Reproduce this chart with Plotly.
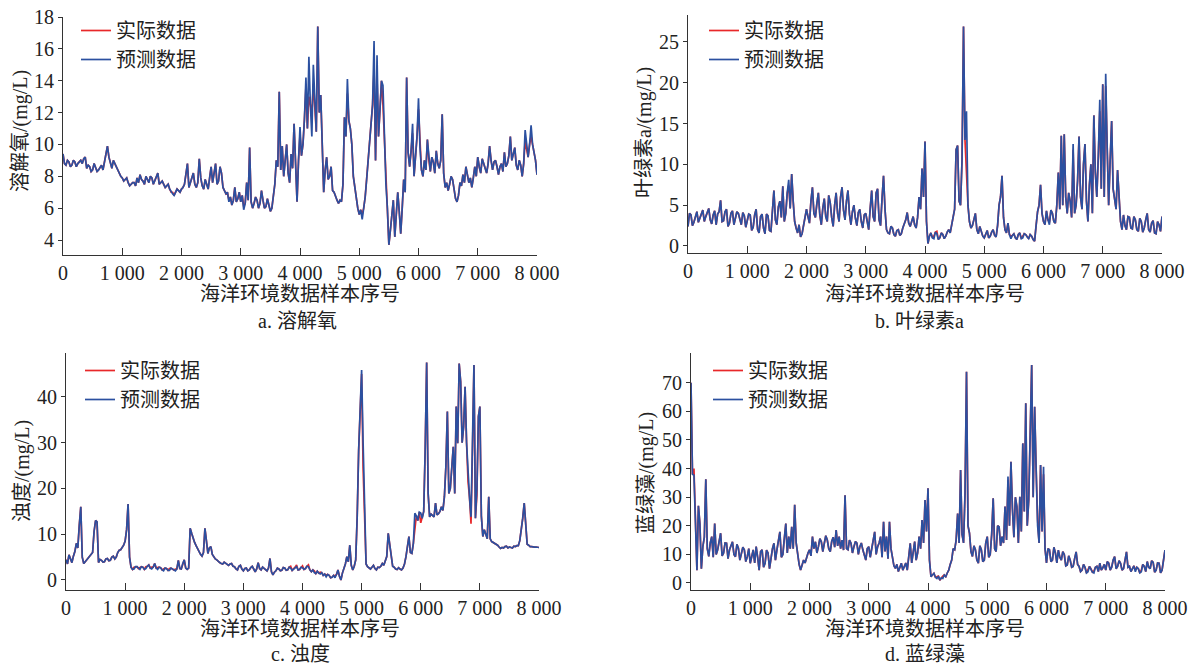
import plotly.graph_objects as go

sample_index = list(range(0, 8001, 25))

do_pred = [
    9.4, 8.8, 8.7, 9.0, 8.9, 8.6, 8.7, 9.0, 8.9, 8.6, 8.8, 8.9, 9.0, 8.8, 9.1, 9.2, 8.5, 8.7, 8.6, 8.3,
    8.4, 8.8, 8.6, 8.3, 8.4, 8.6, 8.7, 8.4, 9.0, 9.4, 9.9, 9.2, 8.8, 8.5, 9.0, 8.8, 8.6, 8.3, 8.2, 8.0,
    7.9, 7.7, 7.8, 7.9, 7.6, 7.4, 7.5, 7.6, 7.6, 7.4, 7.9, 7.6, 8.1, 7.8, 7.7, 7.5, 8.0, 7.8, 7.6, 8.0,
    7.9, 7.5, 7.7, 7.9, 8.2, 7.5, 7.6, 7.7, 7.5, 7.3, 7.4, 7.5, 7.2, 7.0, 6.9, 6.8, 7.0, 7.2, 7.1, 7.0,
    7.2, 7.3, 7.5, 8.1, 8.8, 7.3, 7.6, 8.0, 8.2, 7.5, 7.3, 7.6, 9.1, 7.9, 7.4, 7.2, 7.8, 7.5, 7.2, 7.9,
    8.6, 7.6, 8.4, 8.8, 7.5, 7.7, 8.6, 8.2, 7.3, 7.1, 6.9, 7.0, 6.4, 6.7, 6.2, 6.5, 7.3, 6.4, 6.6, 7.0,
    6.4, 6.8, 5.9, 6.3, 7.6, 6.5, 9.8, 6.4, 6.0, 6.3, 6.7, 6.5, 6.0, 6.3, 7.1, 6.5, 6.0, 6.1, 6.6, 6.2,
    5.8, 6.0, 6.8, 7.5, 9.0, 8.6, 13.3, 8.4, 9.9, 8.0, 9.0, 10.0, 8.2, 7.6, 9.4, 8.5, 11.3, 8.8, 6.4, 9.0,
    11.1, 9.3, 10.0, 11.6, 14.2, 11.0, 15.5, 12.5, 10.5, 15.0, 12.2, 10.8, 17.4, 12.0, 13.1, 9.5, 7.0, 8.4, 9.2, 7.8,
    8.0, 8.6, 7.1, 7.0, 6.7, 6.5, 6.3, 6.5, 6.4, 7.5, 11.7, 10.5, 14.1, 11.5, 11.0, 10.0, 8.0, 7.2, 6.5, 6.0,
    5.6, 5.9, 5.3, 6.0, 6.7, 7.8, 9.0, 10.2, 11.5, 12.5, 16.5, 9.0, 15.6, 10.5, 12.2, 14.0, 13.7, 10.2, 7.5, 6.0,
    3.7, 4.6, 5.8, 6.5, 4.2, 5.5, 7.0, 5.8, 4.4, 6.0, 7.8, 7.0, 14.2, 9.5, 8.6, 9.6, 11.3, 8.0, 9.0, 10.5,
    12.9, 9.8, 8.4, 8.0, 9.0, 8.4, 10.3, 9.0, 8.3, 9.2, 8.9, 8.2, 9.6, 8.8, 8.5, 9.0, 11.9, 8.2, 7.3, 7.6,
    7.1, 7.5, 8.0, 7.8, 7.0, 6.6, 6.4, 6.8, 7.6, 7.4, 8.1, 7.6, 8.6, 8.2, 7.6, 7.9, 7.3, 7.9, 8.6, 8.0,
    9.2, 8.6, 8.2, 9.1, 8.8, 8.4, 8.2, 8.8, 9.9, 9.0, 8.4, 8.9, 9.0, 8.6, 8.1, 8.6, 8.8, 8.3, 9.5, 8.6,
    8.8, 9.3, 10.5, 9.0, 9.4, 9.8, 8.7, 8.4, 9.0, 8.7, 8.0, 8.8, 10.9, 9.8, 9.2, 10.0, 11.2, 10.0, 9.6, 9.0,
    8.1,
]
do_actual = [
    9.4, 8.8, 8.7, 9.0, 8.9, 8.6, 8.7, 9.0, 8.9, 8.6, 8.8, 8.9, 9.0, 8.8, 9.1, 9.2, 8.5, 8.7, 8.6, 8.3,
    8.4, 8.8, 8.6, 8.3, 8.4, 8.6, 8.7, 8.4, 9.0, 9.4, 9.9, 9.2, 8.8, 8.5, 9.0, 8.8, 8.6, 8.3, 8.2, 8.0,
    7.9, 7.7, 7.8, 7.9, 7.6, 7.4, 7.5, 7.6, 7.6, 7.4, 7.9, 7.6, 8.1, 7.8, 7.7, 7.5, 8.0, 7.8, 7.6, 8.0,
    7.9, 7.5, 7.7, 7.9, 8.2, 7.5, 7.6, 7.7, 7.5, 7.3, 7.4, 7.5, 7.2, 7.0, 7.0, 6.8, 7.0, 7.2, 7.1, 7.0,
    7.2, 7.3, 7.5, 8.1, 8.8, 7.3, 7.6, 8.0, 8.2, 7.5, 7.3, 7.6, 9.1, 7.9, 7.4, 7.2, 7.8, 7.5, 7.2, 7.9,
    8.6, 7.6, 8.4, 8.8, 7.5, 7.7, 8.6, 8.2, 7.3, 7.1, 6.9, 7.0, 6.5, 6.7, 6.2, 6.5, 7.3, 6.4, 6.6, 7.0,
    6.4, 6.8, 6.1, 6.3, 7.6, 6.5, 9.8, 6.4, 6.0, 6.3, 6.7, 6.5, 6.0, 6.3, 7.1, 6.5, 6.0, 6.1, 6.6, 6.2,
    5.8, 6.0, 6.8, 7.5, 9.0, 8.6, 13.3, 8.4, 9.9, 8.0, 9.0, 10.0, 8.2, 7.6, 9.4, 8.5, 11.3, 8.8, 6.4, 9.0,
    10.6, 9.3, 10.0, 11.6, 13.6, 11.0, 13.0, 12.5, 11.9, 13.8, 12.2, 10.8, 17.4, 12.0, 13.1, 9.5, 7.0, 8.4, 9.2, 7.8,
    8.0, 8.6, 7.1, 7.0, 6.7, 6.5, 6.3, 6.5, 6.4, 7.5, 11.7, 10.5, 13.2, 11.5, 11.0, 10.0, 8.0, 7.2, 6.5, 6.0,
    5.6, 5.9, 5.6, 6.0, 6.7, 7.8, 9.0, 10.2, 11.5, 12.5, 14.7, 9.0, 14.2, 10.5, 12.2, 14.0, 12.5, 10.2, 7.5, 6.0,
    3.7, 4.6, 5.8, 6.5, 4.2, 5.5, 7.0, 5.8, 4.4, 6.0, 7.8, 7.0, 14.2, 9.5, 8.6, 9.6, 10.7, 8.0, 9.0, 10.5,
    12.2, 9.8, 8.4, 8.0, 9.0, 8.4, 10.3, 9.0, 8.3, 9.2, 8.9, 8.2, 9.6, 8.8, 8.5, 9.0, 11.9, 8.2, 7.3, 7.6,
    7.1, 7.5, 8.0, 7.8, 7.0, 6.6, 6.4, 6.8, 7.6, 7.4, 8.1, 7.6, 8.6, 8.2, 7.6, 7.9, 7.3, 7.9, 8.6, 8.0,
    9.2, 8.6, 8.2, 9.1, 8.8, 8.4, 8.2, 8.8, 9.9, 9.0, 8.4, 8.9, 9.0, 8.6, 8.1, 8.6, 8.8, 8.3, 9.5, 8.6,
    8.8, 9.3, 10.5, 9.0, 9.4, 9.8, 8.7, 8.4, 9.0, 8.7, 8.0, 8.8, 10.2, 9.8, 9.2, 10.0, 10.5, 10.0, 9.6, 9.0,
    8.1,
]

chl_pred = [
    2.4, 4.0, 3.8, 2.5, 2.9, 3.7, 4.2, 2.9, 3.3, 3.9, 4.4, 3.0, 3.6, 4.1, 4.6, 3.2, 2.7, 3.8, 4.3, 2.6,
    3.9, 4.2, 5.6, 3.0, 3.1, 4.2, 4.5, 2.4, 2.8, 4.0, 4.3, 2.6, 3.5, 4.2, 4.0, 3.2, 2.6, 4.1, 3.7, 2.3,
    3.2, 3.9, 3.8, 1.9, 2.3, 3.8, 4.5, 2.0, 1.6, 3.6, 3.9, 2.2, 1.5, 3.9, 3.7, 1.9, 1.8, 4.3, 6.8, 3.2,
    2.6, 4.8, 5.5, 3.5, 7.3, 3.0, 4.0, 6.5, 8.1, 4.6, 8.8, 5.5, 3.0, 2.2, 1.6, 2.6, 1.1, 1.5, 2.4, 3.2,
    4.5, 3.6, 2.8, 5.5, 7.2, 4.0, 3.5, 5.2, 6.5, 3.8, 2.6, 4.6, 5.8, 3.6, 3.0, 6.2, 5.3, 3.5, 2.4, 5.0,
    6.5, 4.0, 3.0, 6.0, 7.2, 4.4, 3.2, 5.5, 6.8, 3.9, 2.6, 4.2, 5.0, 3.4, 2.5, 4.1, 4.5, 3.0, 2.2, 3.8,
    4.0, 3.0, 2.0, 4.6, 6.8, 3.6, 3.0, 6.5, 7.0, 3.2, 2.5, 5.8, 8.6, 4.5, 2.0, 1.6, 1.5, 2.4, 2.2, 1.4,
    1.2, 1.9, 2.0, 1.3, 1.5, 2.2, 2.6, 3.2, 4.1, 2.8, 2.4, 3.0, 3.6, 2.6, 2.2, 3.5, 6.0, 4.5, 9.5, 6.0,
    12.8, 3.0, 0.3, 1.2, 1.6, 1.0, 0.9, 1.7, 1.5, 0.8, 1.0, 1.6, 1.4, 0.9, 1.2, 1.7, 2.0, 1.6, 2.6, 3.2,
    4.5, 11.8, 12.3, 5.5, 5.0, 10.5, 26.9, 13.0, 16.5, 5.0, 3.0, 2.2, 2.5, 3.2, 4.0, 2.0, 1.5, 2.4, 1.8, 1.2,
    1.0, 1.6, 1.9, 1.0, 1.2, 1.7, 2.0, 1.3, 1.1, 2.5, 5.0, 6.0, 8.6, 3.5, 2.0, 1.6, 2.8, 1.4, 0.9, 1.3,
    1.5, 1.0, 0.8, 1.4, 1.6, 0.9, 1.0, 1.5, 1.4, 1.1, 0.9, 1.4, 1.2, 0.8, 0.6, 2.5, 4.2, 5.0, 7.5, 4.0,
    3.0, 2.6, 4.3, 3.2, 2.6, 4.4, 4.0, 3.0, 2.8, 5.0, 9.0, 4.5, 13.5, 5.0, 13.7, 6.0, 4.0, 6.5, 5.5, 3.5,
    12.5, 4.0, 5.0, 8.0, 13.4, 6.0, 4.5, 10.0, 12.5, 5.5, 3.0, 7.5, 10.0, 4.0, 16.0, 9.0, 6.0, 11.0, 17.9, 7.0,
    19.8, 6.0, 21.1, 12.0, 5.0, 10.5, 15.3, 7.0, 6.0, 4.5, 9.3, 5.5, 3.0, 2.0, 3.8, 2.5, 2.0, 3.6, 3.5, 2.2,
    2.1, 3.6, 3.2, 2.0, 1.8, 3.4, 3.0, 1.7, 2.2, 3.2, 4.0, 2.0, 1.7, 2.8, 3.1, 1.6, 1.5, 3.0, 2.6, 1.8,
    3.6,
]
chl_actual = [
    2.4, 4.0, 3.8, 2.5, 2.9, 3.7, 4.2, 2.9, 3.3, 3.9, 4.4, 3.0, 3.6, 4.1, 4.6, 3.2, 2.7, 3.8, 4.3, 2.6,
    3.9, 4.2, 5.6, 3.0, 3.1, 4.2, 4.5, 2.4, 2.8, 4.0, 4.3, 2.6, 3.5, 4.2, 4.0, 3.2, 2.6, 4.1, 3.7, 2.3,
    3.2, 3.9, 3.8, 1.9, 2.3, 3.8, 4.5, 2.0, 1.6, 3.6, 3.9, 2.2, 1.5, 3.9, 3.7, 1.9, 1.8, 4.3, 6.8, 3.2,
    2.6, 4.8, 5.5, 3.5, 7.3, 3.0, 4.0, 6.5, 7.4, 4.6, 8.8, 5.5, 3.0, 2.2, 1.6, 2.6, 1.1, 1.5, 2.4, 3.2,
    4.5, 3.6, 2.8, 5.5, 7.2, 4.0, 3.5, 5.2, 6.5, 3.8, 2.6, 4.6, 5.8, 3.6, 3.0, 6.2, 5.3, 3.5, 2.4, 5.0,
    6.5, 4.0, 3.0, 6.0, 7.2, 4.4, 3.2, 5.5, 6.8, 3.9, 2.6, 4.2, 5.0, 3.4, 2.5, 4.1, 4.5, 3.0, 2.2, 3.8,
    4.0, 3.0, 2.0, 4.6, 6.8, 3.6, 3.0, 6.5, 7.0, 3.2, 2.5, 5.8, 8.6, 4.5, 2.0, 1.6, 1.5, 2.4, 2.2, 1.4,
    1.2, 1.9, 2.0, 1.3, 1.5, 2.2, 2.6, 3.2, 4.1, 2.8, 2.4, 3.0, 3.6, 2.6, 2.2, 3.5, 6.0, 4.5, 9.5, 6.0,
    12.8, 3.0, 0.3, 1.2, 1.6, 1.0, 1.2, 1.7, 1.8, 0.8, 1.0, 1.6, 1.4, 0.9, 1.2, 1.7, 2.0, 1.6, 2.6, 3.2,
    4.5, 11.8, 12.3, 5.5, 5.0, 10.5, 26.9, 13.0, 8.3, 5.0, 3.0, 2.2, 2.5, 3.2, 4.0, 2.0, 1.5, 2.4, 1.8, 1.2,
    1.0, 1.6, 1.9, 1.0, 1.2, 1.7, 2.0, 1.3, 1.1, 2.5, 5.0, 6.0, 8.6, 3.5, 2.0, 1.6, 2.8, 1.4, 1.2, 1.3,
    1.5, 1.0, 0.8, 1.4, 1.6, 0.9, 1.3, 1.5, 1.4, 1.1, 0.9, 1.4, 1.2, 0.8, 0.6, 2.5, 4.2, 5.0, 7.5, 4.0,
    3.0, 2.6, 4.3, 3.2, 2.9, 4.4, 4.0, 3.0, 2.8, 5.0, 9.0, 4.5, 13.5, 5.0, 13.7, 6.0, 4.0, 6.5, 5.5, 3.5,
    11.8, 4.0, 5.0, 8.0, 13.4, 6.0, 4.5, 10.0, 12.5, 5.5, 3.0, 7.5, 10.0, 4.0, 16.0, 9.0, 6.0, 11.0, 16.5, 7.0,
    19.8, 6.0, 19.6, 12.0, 5.0, 10.5, 15.3, 7.0, 6.0, 4.5, 9.3, 5.5, 3.0, 2.0, 3.8, 2.5, 2.0, 3.6, 3.5, 2.2,
    2.1, 3.6, 3.2, 2.0, 1.8, 3.4, 3.0, 1.7, 2.2, 3.2, 4.0, 2.0, 1.7, 2.8, 3.1, 1.6, 1.5, 3.0, 2.6, 1.8,
    3.6,
]

turb_pred = [
    4.4, 3.5, 5.5, 4.6, 3.8, 5.2, 6.2, 8.0, 7.0, 12.0, 16.0, 5.0, 3.6, 4.0, 4.4, 5.0, 5.2, 5.8, 6.0, 10.6,
    13.0, 12.7, 3.8, 4.5, 4.3, 3.9, 4.0, 4.6, 4.7, 4.2, 4.3, 5.0, 5.2, 4.6, 5.0, 6.0, 6.5, 6.6, 7.0, 7.6,
    8.5, 11.0, 16.6, 5.0, 2.8, 2.3, 2.4, 2.9, 2.9, 2.5, 2.3, 2.9, 2.8, 2.3, 2.5, 3.0, 3.3, 2.6, 2.4, 2.8,
    3.6, 2.6, 2.3, 2.8, 2.7, 2.2, 2.0, 2.6, 2.5, 2.1, 2.1, 2.6, 2.4, 2.2, 2.0, 2.4, 4.3, 2.5, 2.4, 3.6,
    4.4, 2.6, 2.3, 2.6, 11.3, 10.2, 9.1, 8.2, 7.5, 6.8, 6.0, 5.6, 5.2, 6.0, 11.3, 8.0, 5.8, 7.0, 7.3, 5.6,
    5.0, 4.6, 4.4, 4.0, 3.8, 3.6, 3.5, 3.9, 3.6, 3.3, 3.2, 3.5, 3.6, 3.0, 2.9, 2.4, 2.2, 3.0, 3.2, 2.4,
    2.0, 2.5, 2.6, 2.0, 2.2, 2.7, 3.0, 2.4, 1.8, 2.4, 3.8, 2.5, 2.2, 2.8, 2.5, 2.2, 2.0, 2.6, 4.7, 1.8,
    1.1, 1.7, 2.0, 2.6, 2.4, 2.0, 2.1, 2.7, 2.6, 2.1, 2.2, 2.8, 2.6, 2.1, 2.4, 2.8, 2.9, 2.2, 2.3, 2.8,
    2.7, 2.3, 2.5, 3.0, 2.9, 2.2, 1.8, 2.2, 1.6, 1.4, 1.9, 1.5, 1.3, 1.6, 1.0, 1.3, 0.7, 1.2, 1.0, 0.5,
    0.6, 1.0, 0.5, 1.2, 2.2, 0.8, 0.0, 1.5, 2.5, 3.5, 5.1, 4.0, 7.6, 3.2, 2.2, 3.0, 4.4, 13.8, 28.4, 37.7,
    45.9, 30.0, 13.8, 3.5, 2.9, 2.6, 2.4, 2.8, 3.2, 2.5, 2.2, 2.8, 2.7, 3.0, 3.6, 3.2, 4.0, 5.1, 10.2, 8.0,
    5.5, 3.0, 2.8, 2.4, 2.3, 2.7, 2.4, 2.2, 2.6, 3.5, 5.1, 8.0, 9.5, 6.0, 5.8, 8.0, 14.6, 14.0, 13.0, 14.8,
    14.6, 13.5, 15.0, 28.4, 47.5, 18.9, 13.8, 14.4, 14.0, 13.8, 16.8, 14.2, 14.5, 15.0, 16.0, 15.2, 18.2, 24.8, 36.8, 18.9,
    20.0, 24.0, 29.1, 18.9, 37.9, 29.9, 47.3, 43.3, 30.0, 33.5, 42.2, 30.0, 23.3, 18.0, 13.8, 28.0, 47.0, 13.5, 20.0, 35.7,
    37.9, 14.0, 9.5, 11.0, 10.0, 9.0, 18.2, 9.0, 8.4, 8.2, 8.0, 7.8, 7.6, 7.2, 6.9, 7.1, 7.0, 7.3, 7.4, 7.0,
    7.2, 7.1, 7.0, 7.4, 7.3, 7.5, 7.5, 8.6, 10.9, 13.5, 16.8, 12.0, 7.8, 7.6, 7.3, 7.3, 7.2, 7.2, 7.2, 7.1,
    7.1,
]
turb_actual = [
    4.4, 3.5, 5.5, 4.6, 3.8, 5.2, 6.2, 8.0, 7.0, 12.0, 16.0, 5.0, 3.6, 4.0, 4.4, 5.0, 5.2, 5.8, 6.0, 10.6,
    13.0, 12.7, 3.8, 4.5, 4.3, 3.9, 4.0, 4.6, 4.7, 4.2, 4.3, 5.0, 5.2, 4.6, 5.0, 6.0, 6.5, 6.6, 7.0, 7.6,
    8.5, 11.0, 16.6, 5.0, 2.8, 2.3, 2.8, 2.9, 2.9, 2.5, 2.7, 2.9, 2.8, 2.3, 2.9, 3.0, 3.3, 2.6, 2.8, 2.8,
    3.6, 2.6, 2.7, 2.8, 2.7, 2.2, 2.4, 2.6, 2.5, 2.1, 2.5, 2.6, 2.4, 2.2, 2.4, 2.4, 4.3, 2.5, 2.4, 3.6,
    4.4, 2.6, 2.3, 2.6, 11.3, 10.2, 9.1, 8.2, 7.5, 6.8, 6.0, 5.6, 5.2, 6.0, 11.3, 8.0, 5.8, 7.0, 7.3, 5.6,
    5.0, 4.6, 4.4, 4.0, 3.8, 3.6, 3.5, 3.9, 3.6, 3.3, 3.2, 3.5, 3.6, 3.0, 2.9, 2.4, 2.2, 3.0, 3.2, 2.4,
    2.0, 2.5, 2.6, 2.0, 2.2, 2.7, 3.0, 2.4, 1.8, 2.4, 3.8, 2.5, 2.2, 2.8, 2.5, 2.2, 2.0, 2.6, 4.7, 1.8,
    1.1, 1.7, 2.0, 2.6, 2.4, 2.0, 2.1, 2.7, 2.6, 2.1, 2.2, 2.8, 3.0, 2.1, 2.4, 2.8, 3.3, 2.2, 2.3, 2.8,
    3.1, 2.3, 2.5, 3.0, 3.3, 2.2, 1.8, 2.2, 2.0, 1.4, 1.9, 1.5, 1.7, 1.6, 1.0, 1.3, 1.1, 1.2, 1.0, 0.5,
    0.6, 1.0, 0.9, 1.2, 2.2, 0.8, 0.0, 1.5, 2.5, 3.5, 5.1, 4.0, 7.6, 3.2, 2.2, 3.0, 4.4, 13.8, 28.4, 37.7,
    45.0, 24.4, 13.8, 3.5, 2.9, 2.6, 2.4, 2.8, 3.2, 2.5, 2.2, 2.8, 2.7, 3.0, 3.6, 3.2, 4.0, 5.1, 10.2, 8.0,
    5.5, 3.0, 2.8, 2.4, 2.3, 2.7, 2.4, 2.2, 2.6, 3.5, 5.1, 8.0, 9.5, 6.0, 5.8, 8.0, 11.8, 14.0, 13.0, 14.8,
    12.5, 13.5, 15.0, 28.4, 47.5, 18.9, 13.8, 14.4, 14.0, 13.8, 16.8, 14.2, 14.5, 15.0, 16.0, 15.2, 18.2, 24.8, 36.8, 18.9,
    20.0, 24.0, 29.1, 18.9, 37.9, 29.9, 47.3, 43.3, 30.0, 33.5, 42.2, 30.0, 21.5, 18.0, 12.3, 28.0, 47.0, 13.5, 18.5, 35.7,
    37.9, 14.0, 9.5, 11.0, 10.0, 9.0, 18.2, 9.0, 8.4, 8.2, 8.0, 7.8, 7.6, 7.2, 6.9, 7.1, 7.0, 7.3, 7.4, 7.0,
    7.2, 7.1, 7.0, 7.4, 7.3, 7.5, 7.5, 8.6, 10.9, 13.5, 16.8, 12.0, 7.8, 7.6, 7.3, 7.3, 7.2, 7.2, 7.2, 7.1,
    7.1,
]

alg_pred = [
    70.0, 38.0, 37.7, 20.0, 4.5, 27.0, 20.8, 5.0, 12.7, 16.0, 36.3, 12.0, 9.3, 14.0, 16.2, 9.0, 20.8, 10.0, 11.6, 14.5,
    17.4, 9.5, 10.5, 14.0, 13.9, 8.5, 11.6, 13.0, 14.4, 10.0, 9.2, 13.5, 12.2, 8.0, 10.5, 12.5, 11.6, 7.5, 9.2, 12.0,
    6.9, 10.0, 11.6, 7.0, 12.7, 9.0, 4.5, 11.0, 11.6, 5.5, 6.9, 11.5, 10.5, 5.0, 9.3, 12.0, 13.9, 8.0, 11.6, 14.5,
    17.9, 9.0, 10.0, 15.5, 20.8, 10.5, 16.2, 12.0, 19.6, 12.0, 27.3, 14.0, 9.3, 6.5, 4.5, 6.0, 8.0, 7.0, 9.3, 10.5,
    11.6, 9.5, 16.2, 12.0, 14.4, 10.5, 12.7, 15.5, 14.4, 11.0, 13.9, 16.5, 15.0, 12.0, 11.0, 14.5, 16.0, 12.5, 18.5, 13.0,
    16.2, 12.0, 15.0, 11.5, 30.7, 12.0, 11.6, 15.0, 13.9, 10.5, 12.7, 14.5, 13.9, 10.0, 12.7, 14.0, 11.6, 9.5, 8.0, 12.0,
    12.7, 9.0, 11.6, 15.5, 17.9, 10.0, 12.7, 14.0, 16.2, 9.0, 21.4, 11.0, 16.2, 8.5, 21.4, 12.0, 9.3, 6.0, 5.1, 6.5,
    4.0, 5.5, 6.9, 4.5, 5.8, 7.0, 4.5, 9.0, 13.9, 7.0, 11.6, 14.5, 8.0, 10.5, 16.2, 12.0, 22.0, 14.0, 29.0, 18.0,
    33.1, 8.0, 2.2, 3.0, 3.4, 2.0, 1.6, 2.4, 1.0, 1.8, 1.6, 2.8, 2.2, 3.5, 4.5, 6.5, 8.0, 12.0, 11.6, 15.0,
    24.3, 14.0, 39.5, 17.0, 14.0, 31.3, 73.8, 20.0, 17.4, 11.0, 9.3, 13.0, 11.6, 8.0, 6.9, 13.0, 11.6, 7.5, 8.0, 14.0,
    16.2, 9.0, 10.0, 17.0, 29.6, 12.0, 11.0, 20.0, 19.6, 13.0, 16.2, 14.0, 26.7, 15.0, 37.2, 20.0, 42.4, 26.0, 16.0, 30.0,
    26.7, 14.0, 30.1, 18.0, 48.8, 25.0, 62.8, 20.0, 29.0, 52.3, 76.2, 30.0, 61.6, 40.0, 20.0, 14.0, 41.2, 18.0, 40.6, 12.0,
    7.0, 12.0, 11.6, 7.5, 8.0, 12.5, 10.5, 7.0, 11.5, 9.0, 8.0, 11.0, 10.0, 6.0, 6.3, 9.5, 8.0, 5.5, 5.8, 8.5,
    10.9, 6.5, 5.8, 4.0, 4.5, 6.5, 5.5, 3.5, 3.9, 5.8, 5.0, 3.8, 3.5, 5.5, 5.8, 4.0, 6.9, 4.5, 5.3, 6.5,
    4.5, 7.5, 6.9, 4.5, 5.5, 8.0, 9.2, 5.0, 5.8, 7.8, 6.9, 4.5, 5.0, 8.0, 10.9, 5.5, 5.8, 4.0, 4.8, 6.0,
    3.9, 5.5, 5.0, 3.5, 3.9, 6.5, 5.8, 4.0, 7.5, 5.5, 5.0, 7.8, 7.2, 3.8, 4.5, 7.0, 6.9, 3.5, 4.5, 8.0,
    11.5,
]
alg_actual = [
    70.0, 38.0, 40.0, 20.0, 4.5, 27.0, 20.8, 5.0, 12.7, 16.0, 36.3, 12.0, 9.3, 14.0, 16.2, 9.0, 20.8, 10.0, 11.6, 14.5,
    17.4, 9.5, 10.5, 14.0, 13.9, 8.5, 11.6, 13.0, 14.4, 10.0, 9.2, 13.5, 12.2, 8.0, 10.5, 12.5, 11.6, 7.5, 9.2, 12.0,
    6.9, 10.0, 11.6, 7.0, 12.7, 9.0, 4.5, 11.0, 11.6, 5.5, 6.9, 11.5, 10.5, 5.0, 9.3, 12.0, 13.9, 8.0, 11.6, 14.5,
    17.9, 9.0, 10.0, 15.5, 20.8, 10.5, 16.2, 12.0, 19.6, 12.0, 27.3, 14.0, 9.3, 6.5, 4.5, 6.0, 8.0, 7.0, 9.3, 10.5,
    11.6, 9.5, 16.2, 12.0, 14.4, 10.5, 12.7, 15.5, 14.4, 11.0, 13.9, 16.5, 15.0, 12.0, 11.0, 14.5, 16.0, 12.5, 18.5, 13.0,
    16.2, 12.0, 15.0, 11.5, 30.7, 12.0, 11.6, 15.0, 13.9, 10.5, 12.7, 14.5, 13.9, 10.0, 12.7, 14.0, 11.6, 9.5, 8.0, 12.0,
    12.7, 9.0, 11.6, 15.5, 17.9, 10.0, 12.7, 14.0, 16.2, 9.0, 21.4, 11.0, 16.2, 8.5, 21.4, 12.0, 9.3, 6.0, 5.1, 6.5,
    4.0, 5.5, 6.9, 4.5, 5.8, 7.0, 4.5, 9.0, 13.9, 7.0, 11.6, 14.5, 8.0, 10.5, 16.2, 12.0, 22.0, 14.0, 29.0, 18.0,
    33.1, 8.0, 2.2, 3.0, 3.4, 2.0, 2.2, 2.4, 1.0, 1.8, 2.4, 2.8, 2.2, 3.5, 4.5, 6.5, 8.0, 12.0, 11.6, 15.0,
    24.3, 14.0, 39.5, 17.0, 14.0, 31.3, 73.8, 20.0, 17.4, 11.0, 9.3, 13.0, 11.6, 8.0, 6.9, 13.0, 11.6, 7.5, 8.0, 14.0,
    16.2, 9.0, 10.0, 17.0, 29.6, 12.0, 11.0, 20.0, 19.6, 13.0, 16.2, 14.0, 26.7, 15.0, 36.0, 20.0, 42.4, 26.0, 16.0, 30.0,
    26.7, 14.0, 30.1, 18.0, 48.8, 25.0, 62.8, 20.0, 29.0, 52.3, 76.2, 30.0, 61.6, 40.0, 22.0, 14.0, 41.2, 18.0, 38.0, 12.0,
    7.0, 12.0, 11.6, 7.5, 8.0, 12.5, 10.5, 7.0, 11.5, 9.0, 8.0, 11.0, 10.0, 6.0, 6.3, 9.5, 8.0, 5.5, 5.8, 8.5,
    10.9, 6.5, 5.8, 4.0, 4.5, 6.5, 5.5, 3.5, 4.5, 5.8, 5.0, 3.8, 4.2, 5.5, 5.8, 4.0, 6.9, 4.5, 5.3, 6.5,
    4.5, 7.5, 6.9, 4.5, 5.5, 8.0, 9.2, 5.0, 5.8, 7.8, 6.9, 4.5, 5.0, 8.0, 10.9, 5.5, 5.8, 4.0, 4.8, 6.0,
    4.6, 5.5, 5.0, 3.5, 4.5, 6.5, 5.8, 4.0, 7.5, 5.5, 5.0, 7.8, 7.2, 3.8, 4.5, 7.0, 6.9, 3.5, 4.5, 8.0,
    11.5,
]

for _arr in (do_pred, do_actual, chl_pred, chl_actual, turb_pred, turb_actual, alg_pred, alg_actual):
    assert len(_arr) == len(sample_index), len(_arr)

x_tickvals = [0, 1000, 2000, 3000, 4000, 5000, 6000, 7000, 8000]
x_ticktext = ["0", "1 000", "2 000", "3 000", "4 000", "5 000", "6 000", "7 000", "8 000"]

y_titles = ["溶解氧/(mg/L)", "叶绿素a/(mg/L)", "浊度/(mg/L)", "蓝绿藻/(mg/L)"]
captions = ["a. 溶解氧", "b. 叶绿素a", "c. 浊度", "d. 蓝绿藻"]
x_title = "海洋环境数据样本序号"
legend_names = ["实际数据", "预测数据"]

# ---------------- styling / layout ----------------
W, H = 1194, 665
BLUE = "#2b50a0"
RED = "#e8282a"
AXC = "#333333"
TXT = "#222222"
FONT = "Liberation Serif, Noto Sans CJK SC, serif"
CJK = "Noto Sans CJK SC, Liberation Serif"


def px(xp):
    return xp / W


def py(yp):
    return 1 - yp / H


panels = [
    dict(act=do_actual, pre=do_pred, xd=(63, 537), yd=(17, 255), yr=[3.06, 18.0],
         yt=list(range(4, 19, 2)), leg=(76, 11), ytl=(21, 131), xtl=(300, 293), cap=(297, 321)),
    dict(act=chl_actual, pre=chl_pred, xd=(688, 1162), yd=(15, 253), yr=[-0.86, 28.3],
         yt=list(range(0, 26, 5)), leg=(704, 11), ytl=(645, 132), xtl=(925, 293), cap=(919, 321)),
    dict(act=turb_actual, pre=turb_pred, xd=(66, 539), yd=(353, 590), yr=[-2.19, 49.6],
         yt=list(range(0, 41, 10)), leg=(80, 351), ytl=(23, 471), xtl=(300, 627), cap=(300, 654)),
    dict(act=alg_actual, pre=alg_pred, xd=(691, 1165), yd=(353, 590), yr=[-2.45, 80.4],
         yt=list(range(0, 71, 10)), leg=(708, 351), ytl=(646, 473), xtl=(925, 627), cap=(925, 654)),
]

fig = go.Figure()
layout = dict(
    width=W, height=H, margin=dict(l=0, r=0, t=0, b=0, autoexpand=False),
    paper_bgcolor="white", plot_bgcolor="white",
    font=dict(family=FONT, size=20, color=TXT),
    annotations=[],
)

for i, p in enumerate(panels):
    n = "" if i == 0 else str(i + 1)
    xa, ya = "x" + n, "y" + n
    leg = "legend" + n
    fig.add_trace(go.Scatter(x=sample_index, y=p["act"], mode="lines", name=legend_names[0],
                             line=dict(color=RED, width=1.7), xaxis=xa, yaxis=ya, legend=leg))
    fig.add_trace(go.Scatter(x=sample_index, y=p["pre"], mode="lines", name=legend_names[1],
                             line=dict(color=BLUE, width=1.7), xaxis=xa, yaxis=ya, legend=leg))
    layout["xaxis" + n] = dict(
        domain=[px(p["xd"][0]), px(p["xd"][1])], anchor=ya, range=[0, 8000],
        tickvals=x_tickvals, ticktext=x_ticktext, ticks="inside", ticklen=7, tickwidth=1,
        tickcolor=AXC, showline=True, linecolor=AXC, linewidth=1, showgrid=False,
        zeroline=False, automargin=False, tickfont=dict(family=FONT, size=20, color=TXT),
    )
    layout["yaxis" + n] = dict(
        domain=[py(p["yd"][1]), py(p["yd"][0])], anchor=xa, range=p["yr"],
        tickvals=p["yt"], ticks="outside", ticklen=4, tickwidth=1, tickcolor=AXC,
        showline=True, linecolor=AXC, linewidth=1, showgrid=False, zeroline=False,
        automargin=False, tickfont=dict(family=FONT, size=20, color=TXT),
    )
    layout[leg] = dict(
        x=px(p["leg"][0]), y=py(p["leg"][1]), xanchor="left", yanchor="top",
        bgcolor="rgba(0,0,0,0)", borderwidth=0, itemwidth=30, tracegroupgap=0,
        font=dict(family=CJK, size=20, color=TXT),
    )
    layout["annotations"] += [
        dict(text=y_titles[i], x=px(p["ytl"][0]), y=py(p["ytl"][1]), xref="paper", yref="paper",
             textangle=-90, showarrow=False, xanchor="center", yanchor="middle",
             font=dict(family=FONT, size=20, color=TXT)),
        dict(text=x_title, x=px(p["xtl"][0]), y=py(p["xtl"][1]), xref="paper", yref="paper",
             showarrow=False, xanchor="center", yanchor="middle",
             font=dict(family=CJK, size=20, color=TXT)),
        dict(text=captions[i], x=px(p["cap"][0]), y=py(p["cap"][1]), xref="paper", yref="paper",
             showarrow=False, xanchor="center", yanchor="middle",
             font=dict(family=FONT, size=20, color=TXT)),
    ]

fig.update_layout(**layout)
# remove the browser's default 8px page margin so the 1194x665 figure fills the window exactly
fig.write_html("out.html", config={"displayModeBar": False},
               post_script="document.body.style.margin='0px';")
